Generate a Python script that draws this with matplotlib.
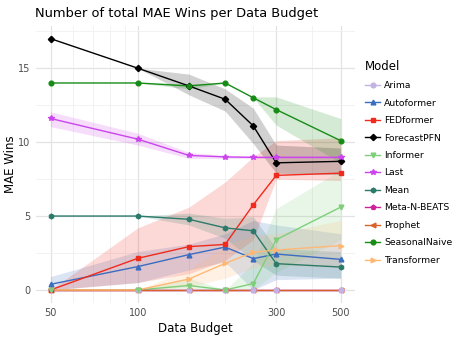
import matplotlib
matplotlib.use("Agg")
import matplotlib.pyplot as plt
from matplotlib.ticker import FixedLocator, NullFormatter
from matplotlib.lines import Line2D

budgets = [50, 100, 150, 200, 250, 300, 500]
x_ticks = [50, 100, 300, 500]
y_ticks = [0, 5, 10, 15]

models = ["Arima", "Autoformer", "FEDformer", "ForecastPFN", "Informer", "Last",
          "Mean", "Meta-N-BEATS", "Prophet", "SeasonalNaive", "Transformer"]

arima = [0, 0, 0, 0, 0, 0, 0]
arima_lo = [0, 0, 0, 0, 0, 0, 0]
arima_hi = [0, 0, 0, 0, 0, 0, 0]

autoformer = [0.38, 1.58, 2.39, 2.9, 2.12, 2.43, 2.07]
autoformer_lo = [0.0, 0.5, 1.35, 1.9, 0.0, 0.7, 0.8]
autoformer_hi = [0.9, 2.6, 3.1, 3.8, 4.7, 4.4, 3.8]

fedformer = [0.0, 2.14, 2.93, 3.08, 5.76, 7.75, 7.9]
fedformer_lo = [0.0, 0.5, 1.1, 2.0, 3.4, 7.5, 7.4]
fedformer_hi = [0.0, 4.2, 5.6, 7.3, 9.0, 10.1, 10.3]

forecastpfn = [17.0, 15.0, 13.8, 12.9, 11.1, 8.6, 8.7]
forecastpfn_lo = [17.0, 15.0, 13.2, 12.1, 9.9, 7.9, 7.8]
forecastpfn_hi = [17.0, 15.0, 14.6, 13.6, 12.3, 9.8, 9.6]

informer = [0, 0, 0.3, 0, 0.43, 3.4, 5.6]
informer_lo = [0, 0, 0.0, 0, 0.0, 1.2, 3.4]
informer_hi = [0, 0, 0.8, 0, 1.8, 5.5, 8.1]

last = [11.6, 10.2, 9.1, 9.0, 8.97, 8.97, 8.97]
last_lo = [11.05, 9.8, 8.9, 8.9, 8.9, 8.9, 8.9]
last_hi = [12.05, 10.6, 9.3, 9.1, 9.05, 9.05, 9.05]

mean = [5.0, 5.0, 4.78, 4.2, 4.0, 1.78, 1.55]
mean_lo = [5.0, 5.0, 4.4, 3.5, 2.0, 1.0, 0.8]
mean_hi = [5.0, 5.0, 5.2, 4.85, 4.95, 2.8, 2.6]

metanbeats = [0, 0, 0, 0, 0, 0, 0]
metanbeats_lo = [0, 0, 0, 0, 0, 0, 0]
metanbeats_hi = [0, 0, 0, 0, 0, 0, 0]

prophet = [0, 0, 0, 0, 0, 0, 0]
prophet_lo = [0, 0, 0, 0, 0, 0, 0]
prophet_hi = [0, 0, 0, 0, 0, 0, 0]

seasonalnaive = [14.0, 14.0, 13.8, 14.0, 13.0, 12.2, 10.1]
seasonalnaive_lo = [14.0, 14.0, 13.6, 14.0, 13.0, 11.15, 8.6]
seasonalnaive_hi = [14.0, 14.0, 13.95, 14.0, 13.06, 13.06, 11.6]

transformer = [0, 0, 0.74, 1.8, 2.55, 2.7, 3.0]
transformer_lo = [0, 0, 0.2, 0.8, 1.5, 1.7, 1.5]
transformer_hi = [0, 0, 1.4, 3.0, 3.7, 3.8, 4.7]

series = {
    "Arima": (arima, arima_lo, arima_hi),
    "Autoformer": (autoformer, autoformer_lo, autoformer_hi),
    "FEDformer": (fedformer, fedformer_lo, fedformer_hi),
    "ForecastPFN": (forecastpfn, forecastpfn_lo, forecastpfn_hi),
    "Informer": (informer, informer_lo, informer_hi),
    "Last": (last, last_lo, last_hi),
    "Mean": (mean, mean_lo, mean_hi),
    "Meta-N-BEATS": (metanbeats, metanbeats_lo, metanbeats_hi),
    "Prophet": (prophet, prophet_lo, prophet_hi),
    "SeasonalNaive": (seasonalnaive, seasonalnaive_lo, seasonalnaive_hi),
    "Transformer": (transformer, transformer_lo, transformer_hi),
}

colors = {
    "Arima": "#c3b3e3",
    "Autoformer": "#3b6cc0",
    "FEDformer": "#f02a1c",
    "ForecastPFN": "#000000",
    "Informer": "#7fcf7a",
    "Last": "#cc44ee",
    "Mean": "#2b7a6a",
    "Meta-N-BEATS": "#cc2299",
    "Prophet": "#d9622b",
    "SeasonalNaive": "#168c16",
    "Transformer": "#ffb874",
}
markers = {
    "Arima": "o", "Autoformer": "^", "FEDformer": "s", "ForecastPFN": "D",
    "Informer": "v", "Last": "*", "Mean": "h", "Meta-N-BEATS": "p",
    "Prophet": "<", "SeasonalNaive": "o", "Transformer": ">",
}
msizes = {"ForecastPFN": 3.2, "Last": 4.2}

fig = plt.figure(figsize=(4.57, 3.43), dpi=100)
ax = fig.add_axes([0.079, 0.118, 0.698, 0.806])

for m in models:
    y, lo, hi = series[m]
    ax.fill_between(budgets, lo, hi, color=colors[m], alpha=0.18, lw=0, zorder=1)

line_order = ["Arima", "Autoformer", "FEDformer", "ForecastPFN", "Informer", "Last",
              "Mean", "Meta-N-BEATS", "Prophet", "SeasonalNaive", "Transformer"]
for i, m in enumerate(line_order):
    y = series[m][0]
    ax.plot(budgets, y, color=colors[m], lw=1.0, zorder=3 + i * 0.01)

marker_order = ["Prophet", "Transformer", "Meta-N-BEATS", "Arima", "Autoformer",
                "FEDformer", "ForecastPFN", "Last", "Mean", "SeasonalNaive", "Informer"]
for i, m in enumerate(marker_order):
    y = series[m][0]
    ax.plot(budgets, y, ls="none", marker=markers[m], ms=msizes.get(m, 3.4),
            color=colors[m], mec=colors[m], zorder=4 + i * 0.01)

ax.set_xscale("log")
ax.set_xlim(44.6, 561)
ax.set_ylim(-0.85, 17.85)
ax.xaxis.set_major_locator(FixedLocator(x_ticks))
ax.set_xticks(x_ticks)
ax.set_xticklabels([str(t) for t in x_ticks])
ax.xaxis.set_minor_locator(FixedLocator([60, 70, 80, 90, 150, 200, 250, 400]))
ax.xaxis.set_minor_formatter(NullFormatter())
ax.set_yticks(y_ticks)
ax.set_yticklabels([str(t) for t in y_ticks])
ax.yaxis.set_minor_locator(FixedLocator([2.5, 7.5, 12.5, 17.5]))

ax.grid(True, which="major", color="#e3e3e3", lw=0.9, zorder=0)
ax.grid(True, which="minor", color="#f0f0f0", lw=0.6, zorder=0)
ax.set_axisbelow(True)
for s in ax.spines.values():
    s.set_visible(False)
ax.tick_params(which="both", length=0, labelsize=7, labelcolor="#4d4d4d", pad=4)

ax.set_xlabel("Data Budget", fontsize=8.5, labelpad=3)
fig.text(0.024, 0.52, "MAE Wins", fontsize=8.5, rotation=90, ha="center", va="center")
fig.text(0.077, 0.962, "Number of total MAE Wins per Data Budget", fontsize=9.4,
         ha="left", va="center")

handles = [Line2D([0], [0], color=colors[m], lw=1.0, marker=markers[m],
                  ms=msizes.get(m, 3.4)) for m in models]
leg = fig.legend(handles, models, loc="upper left", bbox_to_anchor=(0.799, 0.826),
                 frameon=False, fontsize=6.7, title="Model", title_fontsize=8.5,
                 handlelength=1.6, handletextpad=0.45, labelspacing=0.91,
                 borderaxespad=0, borderpad=0)
leg._legend_box.align = "left"

fig.savefig("out.png", dpi=100)
